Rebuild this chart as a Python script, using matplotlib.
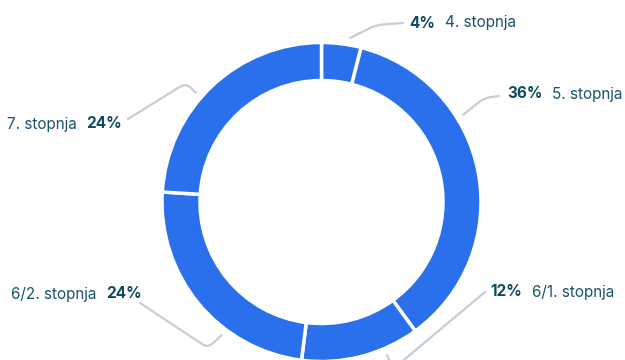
import numpy as np
import matplotlib
matplotlib.use("Agg")
import matplotlib.pyplot as plt
from matplotlib.path import Path
from matplotlib.patches import PathPatch

plt.rcParams['font.family'] = ['Inter', 'DejaVu Sans']

# share of each education level, clockwise from the top
levels = ['4. stopnja', '5. stopnja', '6/1. stopnja', '6/2. stopnja', '7. stopnja']
shares = [4, 36, 12, 24, 24]

BLUE = '#2a70ec'
TEXT = '#1b546b'
TEXT_BOLD = '#0e4a60'
LINE = '#c3ced6'

W, H = 625, 360
fig = plt.figure(figsize=(6.25, 3.6), dpi=100)
ax = fig.add_axes([0, 0, 1, 1])

def px(x, y):
    # screen pixels (origin top-left) -> axes data coords
    return x, H - y

cx, cy = px(321.5, 202)
R = 159.5
ring = 38

ax.pie(shares, center=(cx, cy), radius=R, startangle=90, counterclock=False,
       colors=[BLUE] * len(shares),
       wedgeprops=dict(width=ring, edgecolor='white', linewidth=2.5))
ax.set_xlim(0, W)
ax.set_ylim(0, H)
ax.set_aspect('auto')
ax.axis('off')

# label layout: connector angle on the ring, elbow, line end, text anchor, side
layout = [
    dict(ang=80.1, elbow=(376, 25), end=(403, 23), txt=(409, 23), side='r'),
    dict(ang=31.6, elbow=(484, 98), end=(499, 96), txt=(507, 94), side='r'),
    dict(ang=-66.8, elbow=(393, 369), end=(485, 292), txt=(490, 292), side='r'),
    dict(ang=-126.9, elbow=(208, 348), end=(140, 303), txt=(142, 294), side='l'),
    dict(ang=139.0, elbow=(186, 83), end=(128, 119), txt=(122, 124), side='l'),
]

def connector(p0, p1, p2, rad=7):
    p0, p1, p2 = map(np.asarray, (p0, p1, p2))
    d0 = p0 - p1
    d2 = p2 - p1
    a = p1 + d0 / np.hypot(*d0) * min(rad, np.hypot(*d0) / 2)
    b = p1 + d2 / np.hypot(*d2) * min(rad, np.hypot(*d2) / 2)
    verts = [p0, a, p1, b, p2]
    codes = [Path.MOVETO, Path.LINETO, Path.CURVE3, Path.CURVE3, Path.LINETO]
    return PathPatch(Path(verts, codes), fill=False, edgecolor=LINE, lw=1.6,
                     capstyle='round', joinstyle='round', clip_on=True)

fs = 11
fig.canvas.draw()
renderer = fig.canvas.get_renderer()
inv = ax.transData.inverted()
gap = 10

for name, val, lay in zip(levels, shares, layout):
    t = np.deg2rad(lay['ang'])
    anchor = (cx + (R + 7) * np.cos(t), cy + (R + 7) * np.sin(t))
    ax.add_patch(connector(anchor, px(*lay['elbow']), px(*lay['end'])))

    x, y = px(*lay['txt'])
    pct = f'{val}%'
    if lay['side'] == 'r':
        tb = ax.text(x, y, pct, fontsize=fs, fontweight='bold', color=TEXT_BOLD,
                     ha='left', va='center')
        bb = tb.get_window_extent(renderer)
        x2 = inv.transform((bb.x1 + gap, 0))[0]
        ax.text(x2, y, name, fontsize=fs, color=TEXT, ha='left', va='center')
    else:
        tb = ax.text(x, y, pct, fontsize=fs, fontweight='bold', color=TEXT_BOLD,
                     ha='right', va='center')
        bb = tb.get_window_extent(renderer)
        x2 = inv.transform((bb.x0 - gap, 0))[0]
        ax.text(x2, y, name, fontsize=fs, color=TEXT, ha='right', va='center')

fig.savefig('out.png', dpi=100)
